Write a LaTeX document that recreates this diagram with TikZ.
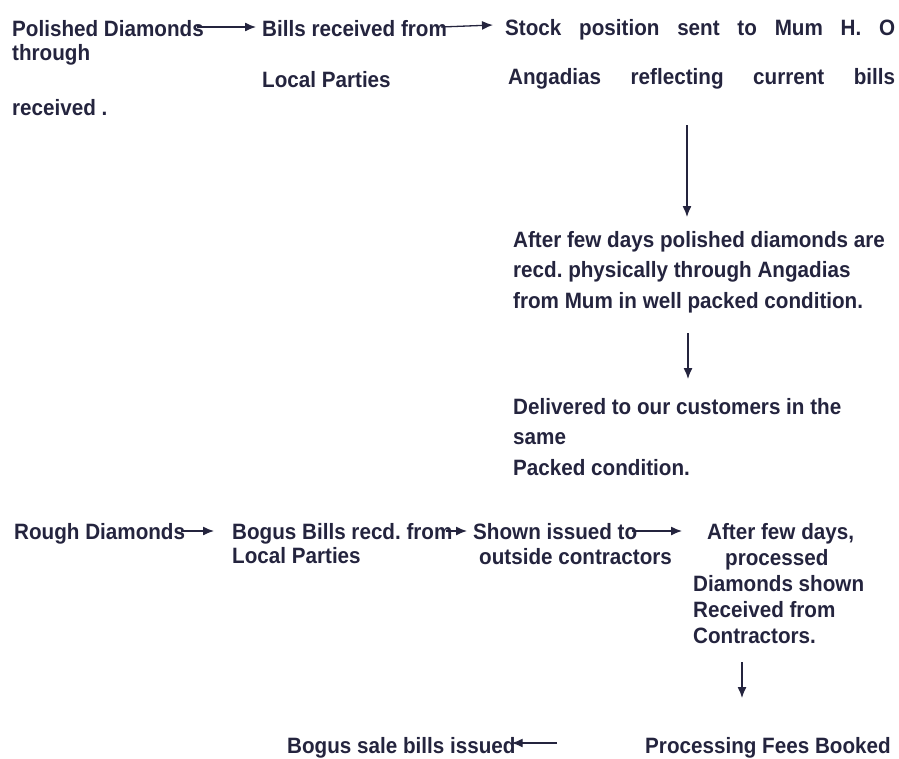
\documentclass[tikz,border=0pt]{standalone}
\usepackage{fontspec}
\setmainfont{Liberation Sans}[UprightFont=*-Bold, FakeStretch=0.93]
\usetikzlibrary{arrows.meta}
\definecolor{ink}{RGB}{36,36,62}
\tikzset{
  txt/.style={anchor=base west, inner sep=0pt, text=ink, font=\fontsize{22.2}{25}\selectfont},
  arr/.style={draw=ink, line width=1.3pt, -{Latex[length=11pt,width=9pt]}},
}
\newcommand{\blockpar}[3]{\parbox[t]{#1}{\fontsize{22.2}{#2}\selectfont\raggedright #3}}
\frenchspacing
\begin{document}
\begin{tikzpicture}[x=1pt,y=1pt]
\useasboundingbox (0,0) rectangle (899,-758);
% row 1
\node[txt] (pd1) at (12,-36) {Polished Diamonds};
\node[txt] (pd2) at (12,-60) {through};
\node[txt] (pd3) at (12,-115) {received .};
\node[txt] (br1) at (262,-36) {Bills received from};
\node[txt] (br2) at (262,-87) {Local Parties};
\node[txt] (sp1) at (505,-35) {\makebox[390pt][s]{Stock position sent to Mum H. O}};
\node[txt] (sp2) at (508,-84) {\makebox[387pt][s]{Angadias reflecting current bills}};
\node[txt] (af) at (513,-247) {\blockpar{385pt}{30.5}{After few days polished diamonds are\\recd. physically through Angadias\\from Mum in well packed condition.}};
\node[txt] (dl) at (513,-414) {\blockpar{385pt}{30.5}{Delivered to our customers in the\\same\\Packed condition.}};
% row 3
\node[txt] (rd) at (14,-539) {Rough Diamonds};
\node[txt] (bb1) at (232,-539) {Bogus Bills recd. from};
\node[txt] (bb2) at (232,-563) {Local Parties};
\node[txt] (sh1) at (473,-539) {Shown issued to};
\node[txt] (sh2) at (479,-564) {outside contractors};
\node[txt] (pr) at (693,-539) {\blockpar{200pt}{26}{\hspace*{14pt}After few days,\\\hspace*{32pt}processed\\Diamonds shown\\Received from\\Contractors.}};
\node[txt] (pf) at (645,-753) {Processing Fees Booked};
\node[txt] (bs) at (287,-753) {Bogus sale bills issued};
% free ends of vertical connectors
\coordinate (d1a) at (687,-125);
\coordinate (d1b) at (687,-217);
\coordinate (d2a) at (688,-333);
\coordinate (d2b) at (688,-379);
\coordinate (d3a) at (742,-662);
\coordinate (d3b) at (742,-698);
% connectors
\draw[arr] ([shift={(-7,9)}]pd1.base east) -- ([shift={(-6,9)}]br1.base west);
\draw[arr] ([shift={(-6,9)}]br1.base east) -- ([shift={(-12,10)}]sp1.base west);
\draw[arr] (d1a) -- (d1b);
\draw[arr] (d2a) -- (d2b);
\draw[arr] ([shift={(-4,8)}]rd.base east) -- ([shift={(-18,8)}]bb1.base west);
\draw[arr] ([shift={(-7,8)}]bb1.base east) -- ([shift={(-6,8)}]sh1.base west);
\draw[arr] ([shift={(-5,8)}]sh1.base east) -- ([shift={(-11,8)}]pr.base west);
\draw[arr] (d3a) -- (d3b);
\draw[arr] ([shift={(-88,10)}]pf.base west) -- ([shift={(-4,10)}]bs.base east);
\end{tikzpicture}
\end{document}
